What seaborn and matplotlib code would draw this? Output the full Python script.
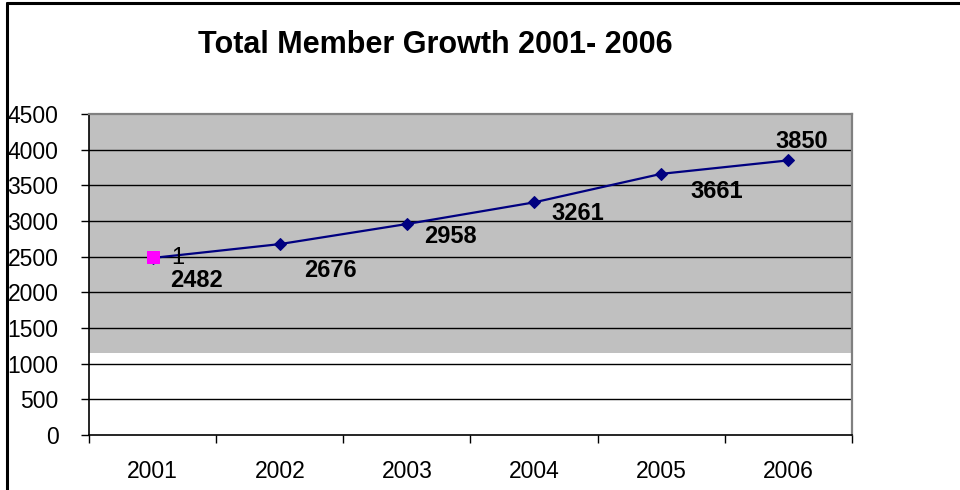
import matplotlib
matplotlib.use("Agg")
import matplotlib.pyplot as plt
from matplotlib.lines import Line2D
import seaborn as sns
import pandas as pd

years = ["2001", "2002", "2003", "2004", "2005", "2006"]
members = [2482, 2676, 2958, 3261, 3661, 3850]
highlight_year_index = [0]
highlight_value = [2500]
highlight_label = ["1"]
title = "Total Member Growth 2001- 2006"
y_ticks = [0, 500, 1000, 1500, 2000, 2500, 3000, 3500, 4000, 4500]

sns.set_style("white")
plt.rcParams["font.family"] = ["Liberation Sans", "DejaVu Sans"]
plt.rcParams["text.color"] = "black"
plt.rcParams["xtick.color"] = "black"
plt.rcParams["ytick.color"] = "black"
plt.rcParams["axes.labelcolor"] = "black"

df = pd.DataFrame({"pos": list(range(len(years))), "members": members})

fig = plt.figure(figsize=(9.6, 4.9), dpi=100)
ax = fig.add_axes([89 / 960, 1 - 435 / 490, (852 - 89) / 960, (435 - 114) / 490])

# plot-area shading (grey upper band, white lower band as in the source)
ax.axhspan(1145, 4500, color="#C0C0C0", zorder=0, lw=0)

for v in y_ticks[1:-1]:
    ax.axhline(v, color="#000000", lw=1.0, zorder=1)

sns.lineplot(data=df, x="pos", y="members", ax=ax, color="#000080", lw=1.6,
             marker="D", markersize=6.5, markeredgecolor="#000080", zorder=3)

hdf = pd.DataFrame({"pos": highlight_year_index, "val": highlight_value})
sns.scatterplot(data=hdf, x="pos", y="val", ax=ax, marker="s", s=80,
                color="#FF00FF", edgecolor="#FF00FF", zorder=4)

offsets = [(44, -23), (51, -26), (44, -13), (44, -11), (55, -18), (13, 19)]
for i, (v, off) in enumerate(zip(members, offsets)):
    ax.annotate(str(v), (i, v), xytext=off, textcoords="offset pixels",
                ha="center", va="center", fontsize=17, fontweight="bold",
                color="black", zorder=5)
for i, v, lab in zip(highlight_year_index, highlight_value, highlight_label):
    ax.annotate(lab, (i, v), xytext=(25, -1), textcoords="offset pixels",
                ha="center", va="center", fontsize=17, color="black", zorder=5)

ax.set_xlim(-0.5, len(years) - 0.5)
ax.set_ylim(0, 4500)
ax.set_yticks(y_ticks)
ax.set_yticklabels([str(t) for t in y_ticks])
ax.set_xticks(range(len(years)))
ax.set_xticklabels(years)
ax.set_xticks([i - 0.5 for i in range(len(years) + 1)], minor=True)
ax.set_xlabel("")
ax.set_ylabel("")

ax.tick_params(axis="y", which="major", length=6, width=1, color="black",
               direction="out", left=True, pad=16, labelsize=16.5)
ax.tick_params(axis="x", which="major", length=0, pad=18, labelsize=16.5)
ax.tick_params(axis="x", which="minor", length=6, width=1, color="black",
               direction="out", bottom=True)

for side in ["left", "bottom"]:
    ax.spines[side].set_color("black")
    ax.spines[side].set_linewidth(1.2)
for side in ["top", "right"]:
    ax.spines[side].set_visible(True)
    ax.spines[side].set_color("#808080")
    ax.spines[side].set_linewidth(1.6)
ax.grid(False)

fig.text(435 / 960, 1 - 45 / 490, title, ha="center", va="center",
         fontsize=22, fontweight="bold", color="black")

# outer frame (left and top edges visible)
fig.add_artist(Line2D([7 / 960, 7 / 960], [0, 1 - 3 / 490], color="black",
                      lw=2.2, transform=fig.transFigure))
fig.add_artist(Line2D([7 / 960, 1], [1 - 3 / 490, 1 - 3 / 490], color="black",
                      lw=2.2, transform=fig.transFigure))

fig.savefig("out.png", dpi=100)
